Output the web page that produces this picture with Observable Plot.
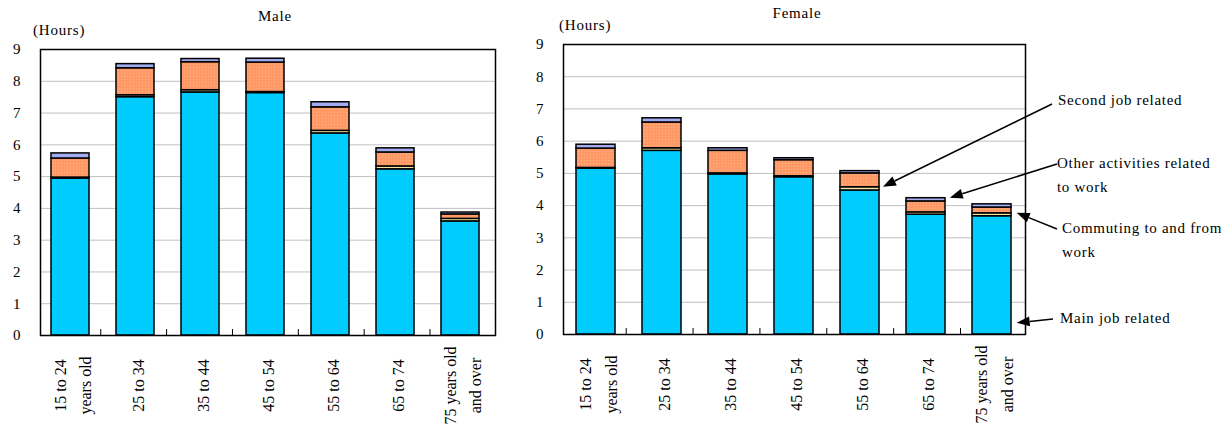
<!DOCTYPE html>
<html>
<head>
<meta charset="utf-8">
<script src="https://cdn.jsdelivr.net/npm/d3@7"></script>
<script src="https://cdn.jsdelivr.net/npm/@observablehq/plot@0.6"></script>
<style>
  html, body { margin: 0; padding: 0; background: #fff; }
  #wrap { position: relative; width: 1228px; height: 432px; font-family: "Liberation Serif", "DejaVu Serif", serif; color: #000; }
  .pl { position: absolute; top: 0; }
  .lbl { position: absolute; font-size: 15px; white-space: nowrap; letter-spacing: 0.8px; }
</style>
</head>
<body>
<div id="wrap"></div>
<script>
// ---- data ----
const ages = ["15 to 24\nyears old", "25 to 34", "35 to 44", "45 to 54", "55 to 64", "65 to 74", "75 years old\nand over"];
const series = ["Main job related", "Second job related", "Commuting to and from work", "Other activities related to work"];
const colors = ["#00ccff", "#f2e3a6", "url(#orangeDots)", "#a3acf0"];
const yTicks = [0, 1, 2, 3, 4, 5, 6, 7, 8, 9];
const gridValues = [1, 2, 3, 4, 5, 6, 7, 8];

const maleMain    = [4.94, 7.50, 7.65, 7.63, 6.36, 5.23, 3.59];
const maleSecond  = [0.03, 0.06, 0.07, 0.03, 0.08, 0.09, 0.08];
const maleCommute = [0.60, 0.85, 0.88, 0.93, 0.74, 0.44, 0.14];
const maleOther   = [0.16, 0.13, 0.10, 0.12, 0.16, 0.13, 0.06];

const femaleMain    = [5.15, 5.70, 4.97, 4.88, 4.47, 3.72, 3.67];
const femaleSecond  = [0.02, 0.08, 0.03, 0.03, 0.10, 0.07, 0.09];
const femaleCommute = [0.60, 0.80, 0.70, 0.50, 0.43, 0.34, 0.18];
const femaleOther   = [0.12, 0.13, 0.08, 0.06, 0.07, 0.10, 0.10];

// annotation labels and their target bars/values (female chart)
const annLabels  = ["Second job related", "Other activities related\nto work", "Commuting to and from\nwork", "Main job related"];
const annTargets = ["55 to 64", "65 to 74", "75 years old\nand over", "75 years old\nand over"];
const annValues  = [4.57, 4.23, 3.76, 0.35];

function rows(main, second, commute, other) {
  const cols = [main, second, commute, other];
  const out = [];
  series.forEach((s, k) => ages.forEach((a, i) => out.push({age: a, series: s, value: cols[k][i]})));
  return out;
}

const wrap = document.getElementById("wrap");

function addPattern(svg) {
  const defs = svg.insert("defs", ":first-child");
  const p = defs.append("pattern").attr("id", "orangeDots").attr("patternUnits", "userSpaceOnUse")
    .attr("width", 3).attr("height", 3);
  p.append("rect").attr("width", 3).attr("height", 3).attr("fill", "#ff9966");
  p.append("rect").attr("x", 1).attr("y", 1).attr("width", 1).attr("height", 1).attr("fill", "#ffb38a");
}

function makeChart(data, opts) {
  const plot = Plot.plot({
    width: opts.width, height: 432,
    marginLeft: opts.ml, marginRight: opts.mr, marginTop: opts.mt, marginBottom: opts.mb,
    style: {fontFamily: "Liberation Serif, serif", fontSize: "15px", color: "#000", background: "transparent", overflow: "visible"},
    x: {type: "band", domain: ages, paddingInner: 0.41, paddingOuter: 0.16, align: opts.align, axis: null},
    y: {domain: [0, 9], ticks: yTicks, tickSize: 0, tickPadding: opts.tp, label: null, tickFormat: d3.format("d")},
    color: {domain: series, range: colors},
    marks: [
      Plot.ruleY(gridValues, {stroke: "#c0c0c0", strokeWidth: 1}),
      Plot.barY(data, {x: "age", y: "value", fill: "series", z: "series", stroke: "#000", strokeWidth: 1.5}),
      Plot.text(ages, {x: d => d, text: d => d, frameAnchor: "bottom", dy: 50, rotate: -90, textAnchor: "middle", lineAnchor: "middle", lineHeight: 1.6, fontSize: 16, style: "letter-spacing:1.5px"}),
      Plot.frame({stroke: "#000", strokeWidth: 1.5})
    ]
  });
  plot.classList.add("pl");
  plot.style.left = opts.left + "px";
  wrap.appendChild(plot);

  const svg = d3.select(plot);
  addPattern(svg);

  // scale helpers from the plot's own scales
  const sx = plot.scale("x"), sy = plot.scale("y");
  const band = d3.scaleBand().domain(sx.domain).range(sx.range)
    .paddingInner(sx.paddingInner).paddingOuter(sx.paddingOuter).align(sx.align ?? 0.5);
  const lin = d3.scaleLinear(sy.domain, sy.range);
  const step = band.step(), bw = band.bandwidth();
  const y0 = lin(0);
  // small category separator ticks on the bottom frame
  for (let i = 1; i < ages.length; i++) {
    const xx = band(ages[i]) - (step - bw) / 2;
    svg.append("line").attr("x1", xx).attr("x2", xx).attr("y1", y0).attr("y2", y0 - 6)
      .attr("stroke", "#000").attr("stroke-width", 1);
  }
  return {plot, band, lin, svg};
}

const male = makeChart(rows(maleMain, maleSecond, maleCommute, maleOther),
  {width: 520, left: 0, ml: 40, mr: 25, mt: 49, mb: 97, tp: 20, align: 0.4});
const female = makeChart(rows(femaleMain, femaleSecond, femaleCommute, femaleOther),
  {width: 708, left: 520, ml: 43, mr: 203, mt: 44, mb: 98, tp: 20, align: 0.47});

// titles and unit labels
function addLabel(text, x, y, anchor) {
  const d = document.createElement("div");
  d.className = "lbl";
  d.textContent = text;
  d.style.left = x + "px";
  d.style.top = y + "px";
  if (anchor === "middle") d.style.transform = "translateX(-50%)";
  wrap.appendChild(d);
}
addLabel("Male", 275, 8, "middle");
addLabel("(Hours)", 33, 22);
addLabel("Female", 797, 5, "middle");
addLabel("(Hours)", 559, 17);

// annotations on the female chart
const annText = [[1058, 100], [1057, 163], [1062, 228], [1060, 318]];
const annFrom = [[1052, 104], [1057, 164], [1057, 229], [1053, 319]];
const fsvg = female.svg, offX = 520;
annLabels.forEach((t, i) => {
  const lines = t.split("\n");
  const txt = fsvg.append("text").attr("font-family", "Liberation Serif, serif").attr("font-size", 15)
    .attr("fill", "#000").attr("text-anchor", "start").style("letter-spacing", "0.7px");
  lines.forEach((ln, j) => {
    txt.append("tspan").attr("x", annText[i][0] - offX).attr("y", annText[i][1] + j * 24).attr("dy", "0.35em").text(ln);
  });
  const tx = female.band(annTargets[i]) + female.band.bandwidth() + 3;
  const ty = female.lin(annValues[i]);
  const fx = annFrom[i][0] - offX, fy = annFrom[i][1];
  const ang = Math.atan2(ty - fy, tx - fx);
  const L = 13, W = 5;
  const bx = tx - L * Math.cos(ang), by = ty - L * Math.sin(ang);
  fsvg.append("line").attr("x1", fx).attr("y1", fy).attr("x2", bx).attr("y2", by)
    .attr("stroke", "#000").attr("stroke-width", 1.5);
  const px = -Math.sin(ang) * W, py = Math.cos(ang) * W;
  fsvg.append("path")
    .attr("d", `M${tx},${ty}L${bx + px},${by + py}L${bx - px},${by - py}Z`)
    .attr("fill", "#000");
});
</script>
</body>
</html>
